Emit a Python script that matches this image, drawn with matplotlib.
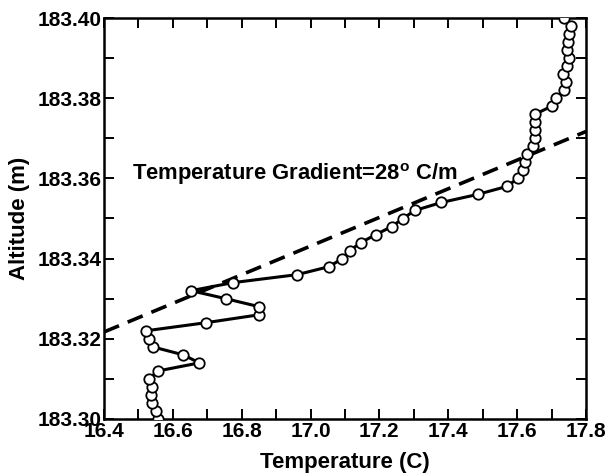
import matplotlib
matplotlib.use("Agg")
import matplotlib.pyplot as plt
import numpy as np
from matplotlib.ticker import MultipleLocator, FormatStrFormatter

plt.rcParams['font.family'] = ['Liberation Sans', 'DejaVu Sans']
plt.rcParams['mathtext.fontset'] = 'custom'
plt.rcParams['mathtext.rm'] = 'Liberation Sans:bold'
plt.rcParams['mathtext.bf'] = 'Liberation Sans:bold'

altitude = [183.300, 183.302, 183.304, 183.306, 183.308, 183.310, 183.312, 183.314,
            183.316, 183.318, 183.320, 183.322, 183.324, 183.326, 183.328, 183.330,
            183.332, 183.334, 183.336, 183.338, 183.340, 183.342, 183.344, 183.346,
            183.348, 183.350, 183.352, 183.354, 183.356, 183.358, 183.360, 183.362,
            183.364, 183.366, 183.368, 183.370, 183.372, 183.374, 183.376, 183.378,
            183.380, 183.382, 183.384, 183.386, 183.388, 183.390, 183.392, 183.394,
            183.396, 183.398, 183.400]
temperature = [16.558, 16.550, 16.540, 16.536, 16.540, 16.530, 16.558, 16.677,
               16.630, 16.541, 16.532, 16.522, 16.695, 16.851, 16.851, 16.754,
               16.653, 16.774, 16.961, 17.054, 17.092, 17.114, 17.146, 17.190,
               17.236, 17.268, 17.303, 17.380, 17.485, 17.570, 17.602, 17.618,
               17.624, 17.630, 17.647, 17.652, 17.652, 17.652, 17.652, 17.700,
               17.713, 17.736, 17.742, 17.732, 17.744, 17.751, 17.744, 17.749,
               17.751, 17.755, 17.735]

fit_temperature = [16.4, 17.8]
fit_altitude = [183.3217, 183.3717]

x_ticks = [16.4, 16.6, 16.8, 17.0, 17.2, 17.4, 17.6, 17.8]
y_ticks = [183.30, 183.32, 183.34, 183.36, 183.38, 183.40]

fig = plt.figure(figsize=(6.08, 4.74), dpi=100)
ax = fig.add_axes([104/608, 1-419/474, (586-104)/608, (419-18)/474])

ax.plot(fit_temperature, fit_altitude, color='black', lw=2.6,
        linestyle=(0, (4.5, 2.6)), zorder=2)
ax.plot(temperature, altitude, color='black', lw=2.2, marker='o',
        markersize=7.5, markerfacecolor='white', markeredgecolor='black',
        markeredgewidth=1.3, zorder=3)

ax.set_xlim(16.4, 17.8)
ax.set_ylim(183.30, 183.40)
ax.set_xticks(x_ticks)
ax.set_yticks(y_ticks)
ax.xaxis.set_minor_locator(MultipleLocator(0.1))
ax.yaxis.set_minor_locator(MultipleLocator(0.01))
ax.xaxis.set_major_formatter(FormatStrFormatter('%.1f'))
ax.yaxis.set_major_formatter(FormatStrFormatter('%.2f'))

ax.tick_params(which='both', direction='in', top=True, right=True,
               length=7, width=1.4)
ax.tick_params(which='major', labelsize=15, pad=2)
for lab in ax.get_xticklabels() + ax.get_yticklabels():
    lab.set_fontweight('bold')
for s in ax.spines.values():
    s.set_linewidth(1.8)

ax.set_xlabel('Temperature (C)', fontsize=16, fontweight='bold', labelpad=8)
ax.set_ylabel('Altitude (m)', fontsize=16, fontweight='bold', labelpad=5)

ax.text(16.48, 183.361, r'Temperature Gradient=28$^\mathrm{o}$ C/m',
        fontsize=15.8, fontweight='bold', va='center', ha='left')

fig.savefig('out.png', dpi=100)
